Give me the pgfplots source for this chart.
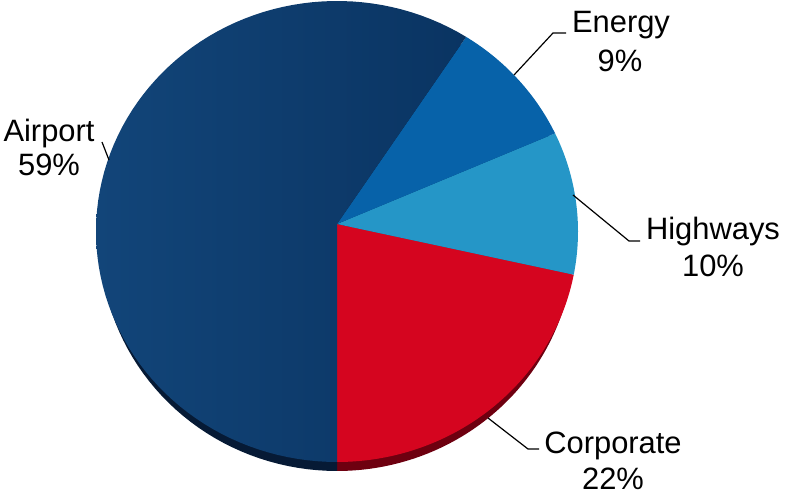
\documentclass[border=0pt]{standalone}
\usepackage{pgfplots}
\usepackage{pgfplotstable}
\pgfplotsset{compat=1.18}
\usepackage{fontspec}
\setmainfont{Liberation Sans}
\definecolor{corp}{HTML}{D5051F}
\definecolor{corpD}{HTML}{6E0010}
\definecolor{hwy}{HTML}{2596C7}
\definecolor{hwyD}{HTML}{145A80}
\definecolor{energy}{HTML}{0762A9}
\definecolor{energyD}{HTML}{043A66}
\definecolor{airL}{HTML}{124579}
\definecolor{airR}{HTML}{0A3462}
\definecolor{airD}{HTML}{061A35}
\tikzset{
  corpS/.style={fill=corp},
  hwyS/.style={fill=hwy},
  energyS/.style={fill=energy},
  airS/.style={left color=airL, right color=airR},
  corpR/.style={fill=corpD},
  hwyR/.style={fill=hwyD},
  energyR/.style={fill=energyD},
  airR/.style={fill=airD},
}
\pgfplotstableread{
name pct
Corporate 22
Highways 10
Energy 9
Airport 59
}\piedata
\begin{document}
\begin{tikzpicture}
\begin{axis}[width=785bp, height=495bp, scale only axis,
  xmin=0, xmax=785, ymin=0, ymax=495,
  axis line style={draw=none}, ticks=none, clip=false]
% rim (shadow) layer
\def\cum{0}
\pgfplotsforeachungrouped \i/\st in {0/corpR,1/hwyR,2/energyR,3/airR}{%
  \pgfplotstablegetelem{\i}{pct}\of\piedata
  \pgfmathsetmacro\a{-90+3.6*\cum}%
  \pgfmathsetmacro\cum{\cum+\pgfplotsretval}%
  \pgfmathsetmacro\b{-90+3.6*\cum}%
  \edef\temp{\noexpand\addplot[\st, draw=none, domain=\a:\b, samples=90]
    ({337+237*cos(x)},{254+230*sin(x)}) -- (axis cs:337,261) -- cycle;}%
  \temp
}
% top layer
\def\cum{0}
\pgfplotsforeachungrouped \i/\st in {0/corpS,1/hwyS,2/energyS,3/airS}{%
  \pgfplotstablegetelem{\i}{pct}\of\piedata
  \pgfmathsetmacro\a{-90+3.6*\cum}%
  \pgfmathsetmacro\cum{\cum+\pgfplotsretval}%
  \pgfmathsetmacro\b{-90+3.6*\cum}%
  \edef\temp{\noexpand\addplot[\st, draw=none, domain=\a:\b, samples=90]
    ({337+241*cos(x)},{263.5+230.5*sin(x)}) -- (axis cs:337,271) -- cycle;}%
  \temp
}
% leader lines
\draw[black, line width=1.2bp] (axis cs:514,420) -- (axis cs:553,462) -- (axis cs:566,462);
\draw[black, line width=1.2bp] (axis cs:573,300) -- (axis cs:629,254) -- (axis cs:640,254);
\draw[black, line width=1.2bp] (axis cs:488,77) -- (axis cs:528,46) -- (axis cs:539,46);
\draw[black, line width=1.2bp] (axis cs:109,335) -- (axis cs:102,353);
% labels
\tikzset{lab/.style={anchor=base, inner sep=0pt, font=\fontsize{31}{34}\selectfont}}
\node[lab] at (axis cs:621,462) {Energy};
\node[lab] at (axis cs:620,423) {9\%};
\node[lab] at (axis cs:713,255) {Highways};
\node[lab] at (axis cs:713,218) {10\%};
\node[lab] at (axis cs:49,353) {Airport};
\node[lab] at (axis cs:49,319) {59\%};
\node[lab] at (axis cs:613,41) {Corporate};
\node[lab] at (axis cs:613,6) {22\%};
\end{axis}
\end{tikzpicture}
\end{document}
